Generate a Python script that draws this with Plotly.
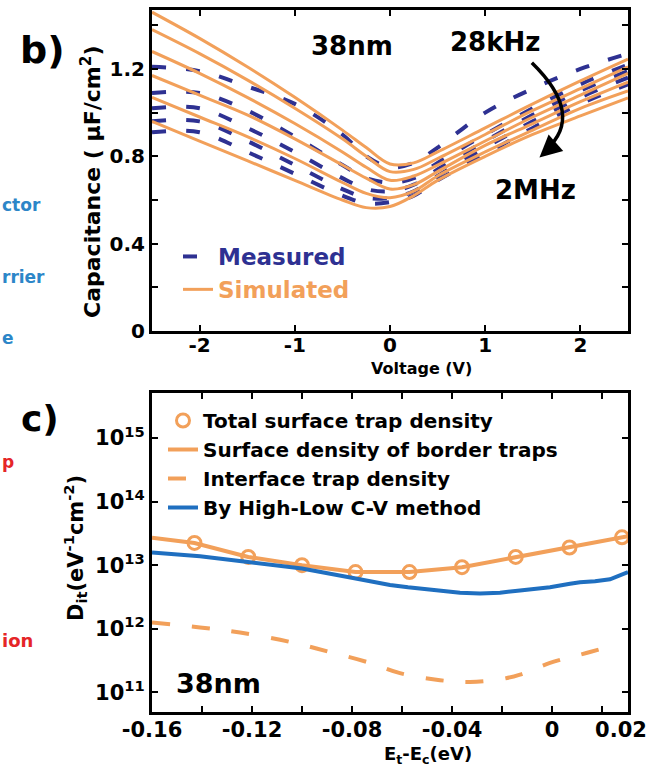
import plotly.graph_objects as go

W, H = 659, 773
FONT = "DejaVu Sans"
NAVY = "#2E3192"
ORANGE = "#F2A05A"
BLUE = "#1F6FC0"

# ---------- panel b data: C-V curves ----------
voltage = [-2.5, -2.0, -1.5, -1.0, -0.5, -0.25, 0.0, 0.25, 0.5, 1.0, 1.5, 2.0, 2.5]

measured_1 = [1.21, 1.19, 1.12, 1.04, 0.90, 0.80, 0.75, 0.77, 0.84, 1.00, 1.11, 1.20, 1.27]
measured_2 = [1.09, 1.09, 1.01, 0.89, 0.76, 0.70, 0.68, 0.70, 0.77, 0.90, 1.02, 1.13, 1.22]
measured_3 = [1.02, 1.02, 0.93, 0.82, 0.70, 0.65, 0.64, 0.67, 0.74, 0.87, 0.99, 1.10, 1.19]
measured_4 = [0.96, 0.96, 0.87, 0.76, 0.65, 0.61, 0.61, 0.64, 0.71, 0.84, 0.96, 1.07, 1.16]
measured_5 = [0.91, 0.91, 0.82, 0.72, 0.62, 0.585, 0.59, 0.62, 0.69, 0.81, 0.93, 1.04, 1.13]

simulated_1 = [1.46, 1.34, 1.21, 1.07, 0.92, 0.84, 0.765, 0.77, 0.82, 0.93, 1.04, 1.145, 1.245]
simulated_2 = [1.38, 1.27, 1.15, 1.02, 0.88, 0.80, 0.73, 0.74, 0.79, 0.90, 1.01, 1.11, 1.21]
simulated_3 = [1.28, 1.18, 1.07, 0.95, 0.82, 0.75, 0.69, 0.71, 0.76, 0.87, 0.98, 1.08, 1.18]
simulated_4 = [1.17, 1.08, 0.99, 0.88, 0.76, 0.70, 0.65, 0.67, 0.73, 0.85, 0.95, 1.05, 1.14]
simulated_5 = [1.07, 0.98, 0.89, 0.79, 0.68, 0.63, 0.61, 0.64, 0.71, 0.82, 0.92, 1.02, 1.10]
simulated_6 = [0.96, 0.87, 0.78, 0.69, 0.60, 0.565, 0.57, 0.62, 0.69, 0.80, 0.90, 0.985, 1.067]

measured_curves = [measured_1, measured_2, measured_3, measured_4, measured_5]
simulated_curves = [simulated_1, simulated_2, simulated_3, simulated_4, simulated_5, simulated_6]

cap_tickvals = [0, 0.2, 0.4, 0.6, 0.8, 1.0, 1.2, 1.4]
cap_ticktext = ["0", "", "0.4", "", "0.8", "", "1.2", ""]
volt_tickvals = [-2, -1, 0, 1, 2]
volt_ticktext = ["-2", "-1", "0", "1", "2"]

# ---------- panel c data: trap densities ----------
total_x = [-0.143, -0.1215, -0.100, -0.0786, -0.057, -0.036, -0.0145, 0.007, 0.028]
total_y = [2.24e13, 1.35e13, 1.0e13, 7.8e12, 7.8e12, 9.3e12, 1.35e13, 1.9e13, 2.75e13]

border_x = [-0.160, -0.143, -0.1215, -0.100, -0.0786, -0.057, -0.036, -0.0145, 0.007, 0.028, 0.0304]
border_y = [2.7e13, 2.24e13, 1.35e13, 1.0e13, 7.8e12, 7.8e12, 9.3e12, 1.35e13, 1.9e13, 2.75e13, 2.85e13]

interface_x = [-0.160, -0.1408, -0.1248, -0.1048, -0.0888, -0.0728, -0.0608, -0.0448,
               -0.0328, -0.0208, -0.0128, -0.0008, 0.0152, 0.0212]
interface_y = [1.26e12, 1.05e12, 8.7e11, 6.2e11, 4.3e11, 2.9e11, 2.0e11, 1.55e11,
               1.45e11, 1.6e11, 1.9e11, 2.9e11, 4.3e11, 5.0e11]

hilo_x = [-0.160, -0.1408, -0.1216, -0.100, -0.0796, -0.0648, -0.0576, -0.0448, -0.0368,
          -0.0288, -0.0208, -0.0128, -0.0008, 0.0072, 0.0112, 0.0172, 0.0232, 0.0304]
hilo_y = [1.58e13, 1.38e13, 1.12e13, 8.9e12, 6.3e12, 4.9e12, 4.5e12, 4.0e12, 3.7e12,
          3.6e12, 3.7e12, 4.0e12, 4.5e12, 5.1e12, 5.4e12, 5.6e12, 6.0e12, 7.8e12]

dit_tickvals = [1e11, 1e12, 1e13, 1e14, 1e15]
dit_ticktext = ["10<sup>11</sup>", "10<sup>12</sup>", "10<sup>13</sup>", "10<sup>14</sup>", "10<sup>15</sup>"]
energy_tickvals = [-0.16, -0.14, -0.12, -0.10, -0.08, -0.06, -0.04, -0.02, 0.0, 0.02]
energy_ticktext = ["-0.16", "", "-0.12", "", "-0.08", "", "-0.04", "", "0", ""]
# the last label of the original sits at the right edge of the frame
edge_label_val = [0.0276]
edge_label_text = ["0.02"]


def px(x):
    return x / W


def py(y):
    return 1 - y / H


fig = go.Figure()

for i, ys in enumerate(measured_curves):
    fig.add_trace(go.Scatter(
        x=voltage, y=ys, mode="lines",
        line=dict(color=NAVY, width=4, dash="14px,20px", shape="spline"),
        name=f"<span style='color:{NAVY}'>Measured</span>", legend="legend",
        legendgroup="meas", legendrank=1, showlegend=(i == 0), xaxis="x", yaxis="y"))

for i, ys in enumerate(simulated_curves):
    fig.add_trace(go.Scatter(
        x=voltage, y=ys, mode="lines", line=dict(color=ORANGE, width=3, shape="spline"),
        name=f"<span style='color:{ORANGE}'>Simulated</span>", legend="legend",
        legendgroup="sim", legendrank=2, showlegend=(i == 0), xaxis="x", yaxis="y"))

fig.add_trace(go.Scatter(
    x=total_x, y=total_y, mode="markers",
    marker=dict(symbol="circle-open", size=13, color=ORANGE, line=dict(width=3, color=ORANGE)),
    name="Total surface trap density", legend="legend2", legendgroup="a",
    xaxis="x2", yaxis="y2"))
fig.add_trace(go.Scatter(
    x=border_x, y=border_y, mode="lines", line=dict(color=ORANGE, width=4),
    name="Surface density of border traps", legend="legend2", legendgroup="b",
    xaxis="x2", yaxis="y2"))
fig.add_trace(go.Scatter(
    x=interface_x, y=interface_y, mode="lines",
    line=dict(color=ORANGE, width=4, dash="18px,22px", shape="spline"),
    name="Interface trap density", legend="legend2", legendgroup="c",
    xaxis="x2", yaxis="y2"))
fig.add_trace(go.Scatter(
    x=hilo_x, y=hilo_y, mode="lines", line=dict(color=BLUE, width=4),
    name="By High-Low C-V method", legend="legend2", legendgroup="d",
    xaxis="x2", yaxis="y2"))
# invisible carrier so the overlaid label-only axis is drawn
fig.add_trace(go.Scatter(
    x=total_x, y=total_y, mode="markers", marker=dict(opacity=0, size=1),
    showlegend=False, hoverinfo="skip", xaxis="x3", yaxis="y2"))


def axis_style(size):
    return dict(showline=True, linewidth=3, linecolor="black", mirror="ticks",
                ticks="inside", ticklen=6, tickwidth=2, tickcolor="black",
                showgrid=False, zeroline=False, automargin=False,
                tickfont=dict(family=FONT, size=size, color="black", weight="bold"))


xdom = [px(152), px(628)]
fig.update_layout(
    template="none",
    width=W, height=H, margin=dict(l=0, r=0, t=0, b=0, autoexpand=False),
    paper_bgcolor="white", plot_bgcolor="white",
    xaxis=dict(domain=xdom, anchor="y", range=[-2.5, 2.5], tickvals=volt_tickvals,
               ticktext=volt_ticktext, ticklabelstandoff=-6, **axis_style(20)),
    yaxis=dict(domain=[py(331), py(10)], anchor="x", range=[0, 1.47],
               tickvals=cap_tickvals, ticktext=cap_ticktext, **axis_style(20)),
    xaxis2=dict(domain=xdom, anchor="y2", range=[-0.16, 0.0304],
                tickvals=energy_tickvals, ticktext=energy_ticktext, ticklabelstandoff=-3,
                **axis_style(21)),
    xaxis3=dict(domain=xdom, anchor="y2", overlaying="x2", side="bottom",
                range=[-0.16, 0.0304], tickvals=edge_label_val, ticktext=edge_label_text,
                showline=True, linewidth=3, linecolor="rgba(0,0,0,0)",
                ticks="inside", ticklen=6, tickwidth=2, tickcolor="rgba(0,0,0,0)",
                showgrid=False, zeroline=False, automargin=False,
                ticklabelstandoff=-3,
                tickfont=dict(family=FONT, size=21, color="black", weight="bold")),
    yaxis2=dict(domain=[py(712), py(393)], anchor="x2", type="log", range=[10.69, 15.71],
                tickvals=dit_tickvals, ticktext=dit_ticktext, **axis_style(21)),
    legend=dict(x=px(178), y=py(235), xanchor="left", yanchor="top",
                bgcolor="rgba(0,0,0,0)", traceorder="normal", tracegroupgap=12,
                font=dict(family=FONT, size=23, color="black", weight="bold")),
    legend2=dict(x=px(163), y=py(401), xanchor="left", yanchor="top",
                 bgcolor="rgba(0,0,0,0)", traceorder="normal", tracegroupgap=3,
                 font=dict(family=FONT, size=20, color="black", weight="bold")),
    showlegend=True,
)

# curved arrow from 28kHz to 2MHz
fig.add_shape(type="path", xref="x", yref="y",
              path="M 1.49,1.228 Q 2.05,0.99 1.64,0.83",
              line=dict(color="black", width=3.5))
fig.add_annotation(x=1.57, y=0.795, xref="x", yref="y", ax=9, ay=-8, text="",
                   showarrow=True, arrowhead=2, arrowsize=1.1, arrowwidth=4, arrowcolor="black")


def txt(text, x, y, size, color="black", angle=0, xanchor="center", yanchor="middle", weight="bold"):
    fig.add_annotation(text=text, x=px(x), y=py(y), xref="paper", yref="paper",
                       showarrow=False, textangle=angle, xanchor=xanchor, yanchor=yanchor,
                       font=dict(family=FONT, size=size, color=color, weight=weight))


# panel labels and inline texts
txt("b)", 42, 50, 38)
txt("c)", 40, 418, 36)
txt("38nm", 352, 46, 26)
txt("28kHz", 495, 42, 26)
txt("2MHz", 535, 190, 26)
txt("38nm", 218, 683, 27)

# axis titles
txt("Capacitance ( μF/cm<sup>2</sup>)", 91, 182, 22, angle=-90)
txt("Voltage (V)", 422, 369, 16)
txt("D<sub>it</sub>(eV<sup>-1</sup>cm<sup>-2</sup>)", 75, 548, 21, angle=-90)
txt("E<sub>t</sub>-E<sub>c</sub>(eV)", 428, 755, 18)

# cropped neighbouring-panel text
LBLUE = "#2C86C8"
RED = "#E52528"
txt("ctor", 0, 205, 17, color=LBLUE, xanchor="left")
txt("rrier", 0, 277, 17, color=LBLUE, xanchor="left")
txt("e", 0, 338, 17, color=LBLUE, xanchor="left")
txt("p", 0, 462, 17, color=RED, xanchor="left")
txt("ion", 0, 640, 18, color=RED, xanchor="left")

fig.write_html("out.html")
